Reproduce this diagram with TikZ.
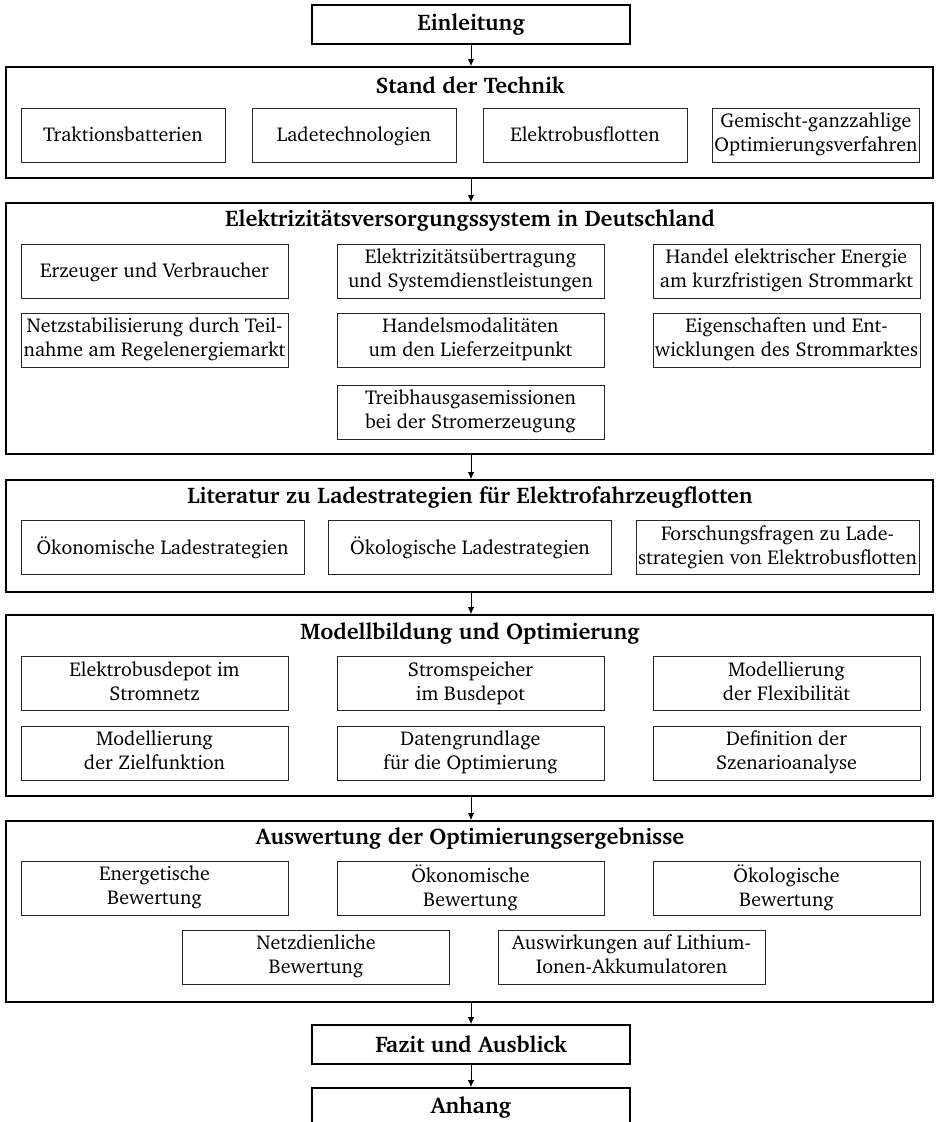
\documentclass[tikz,border=0pt]{standalone}
\usepackage[T1]{fontenc}
\usepackage{charter}
\usetikzlibrary{arrows.meta}
\newdimen\pxu \pxu=0.5pt
\newcommand\basefont{\fontsize{10}{12}\selectfont}
\newcommand\headfont{\fontsize{11.3}{13.5}\selectfont\bfseries}
% strut: 9.5pt above and 2.5pt below the baseline
\newcommand\itemstrut{\rule[-2.5pt]{0pt}{12pt}}
\begin{document}
\begin{tikzpicture}[x=0.5pt,y=-0.5pt,
  font=\basefont,
  chapter/.style={draw=black, line width=0.8pt, minimum width=318\pxu,
    minimum height=39\pxu, inner sep=0pt, font=\headfont},
  frame/.style={draw=black, line width=0.85pt, minimum width=927\pxu, inner sep=0pt},
  title/.style={inner sep=0pt, font=\headfont},
  item/.style={draw=black!85, line width=0.45pt, minimum height=54\pxu,
    align=center, inner sep=1pt,
    execute at begin node=\itemstrut, execute at end node=\itemstrut},
  wfour/.style={item, minimum width=204\pxu},
  wthree/.style={item, minimum width=267\pxu},
  wlit/.style={item, minimum width=283\pxu},
  flow/.style={-{Latex[length=3.5pt,width=3.2pt]}, line width=0.5pt}
]
\clip (0,0) rectangle (936,1122);

% chapter boxes
\node[chapter] (einl) at (471,24.5) {Einleitung};
\node[chapter] (fazit) at (471,1044.5) {Fazit und Ausblick};
\node[chapter] (anhang) at (471,1107.5) {Anhang};

% section frames
\node[frame, minimum height=111\pxu] (stand) at (469.5,122.5) {};
\node[frame, minimum height=251\pxu] (elek) at (469.5,328.5) {};
\node[frame, minimum height=112\pxu] (lit) at (469.5,536) {};
\node[frame, minimum height=181\pxu] (mod) at (469.5,705.5) {};
\node[frame, minimum height=181\pxu] (ausw) at (469.5,911.5) {};

% Stand der Technik
\node[title] (t1) at (470,85) {Stand der Technik};
\node[wfour] (s1) at (123,135) {Traktionsbatterien};
\node[wfour] (s2) at (354,135) {Ladetechnologien};
\node[wfour] (s3) at (585,135) {Elektrobusflotten};
\node[wfour] (s4) at (816,135) {Gemischt-ganzzahlige\\Optimierungsverfahren};

% Elektrizitaetsversorgungssystem
\node[title] (t2) at (470,220) {Elektrizit\"atsversorgungssystem in Deutschland};
\node[wthree] (e1) at (154.5,271) {Erzeuger und Verbraucher};
\node[wthree] (e2) at (470.5,271) {Elektrizit\"ats\"ubertragung\\und Systemdienstleistungen};
\node[wthree] (e3) at (786.5,271) {Handel elektrischer Energie\\am kurzfristigen Strommarkt};
\node[wthree] (e4) at (154.5,340) {Netzstabilisierung durch Teil-\\nahme am Regelenergiemarkt};
\node[wthree] (e5) at (470.5,340) {Handelsmodalit\"aten\\um den Lieferzeitpunkt};
\node[wthree] (e6) at (786.5,340) {Eigenschaften und Ent-\\wicklungen des Strommarktes};
\node[wthree] (e7) at (470.5,412) {Treibhausgasemissionen\\bei der Stromerzeugung};

% Literatur
\node[title] (t3) at (470,497) {Literatur zu Ladestrategien f\"ur Elektrofahrzeugflotten};
\node[wlit] (l1) at (162.5,547.5) {\"Okonomische Ladestrategien};
\node[wlit] (l2) at (470,547.5) {\"Okologische Ladestrategien};
\node[wlit] (l3) at (777.5,547.5) {Forschungsfragen zu Lade-\\strategien von Elektrobusflotten};

% Modellbildung
\node[title] (t4) at (470,633) {Modellbildung und Optimierung};
\node[wthree] (m1) at (154.5,683.5) {Elektrobusdepot im\\Stromnetz};
\node[wthree] (m2) at (470.5,683.5) {Stromspeicher\\im Busdepot};
\node[wthree] (m3) at (786.5,683.5) {Modellierung\\der Flexibilit\"at};
\node[wthree] (m4) at (154.5,753) {Modellierung\\der Zielfunktion};
\node[wthree] (m5) at (470.5,753) {Datengrundlage\\f\"ur die Optimierung};
\node[wthree] (m6) at (786.5,753) {Definition der\\Szenarioanalyse};

% Auswertung
\node[title] (t5) at (470,838) {Auswertung der Optimierungsergebnisse};
\node[wthree] (a1) at (154.5,888) {Energetische\\Bewertung};
\node[wthree] (a2) at (470.5,888) {\"Okonomische\\Bewertung};
\node[wthree] (a3) at (786.5,888) {\"Okologische\\Bewertung};
\node[wthree] (a4) at (316,957) {Netzdienliche\\Bewertung};
\node[wthree] (a5) at (631.5,957) {Auswirkungen auf Lithium-\\Ionen-Akkumulatoren};

% flow between chapters
\draw[flow] (einl.south) -- (einl.south |- stand.north);
\draw[flow] (einl.south |- stand.south) -- (einl.south |- elek.north);
\draw[flow] (einl.south |- elek.south) -- (einl.south |- lit.north);
\draw[flow] (einl.south |- lit.south) -- (einl.south |- mod.north);
\draw[flow] (einl.south |- mod.south) -- (einl.south |- ausw.north);
\draw[flow] (einl.south |- ausw.south) -- (fazit.north);
\draw[flow] (fazit.south) -- (anhang.north);
\end{tikzpicture}
\end{document}
